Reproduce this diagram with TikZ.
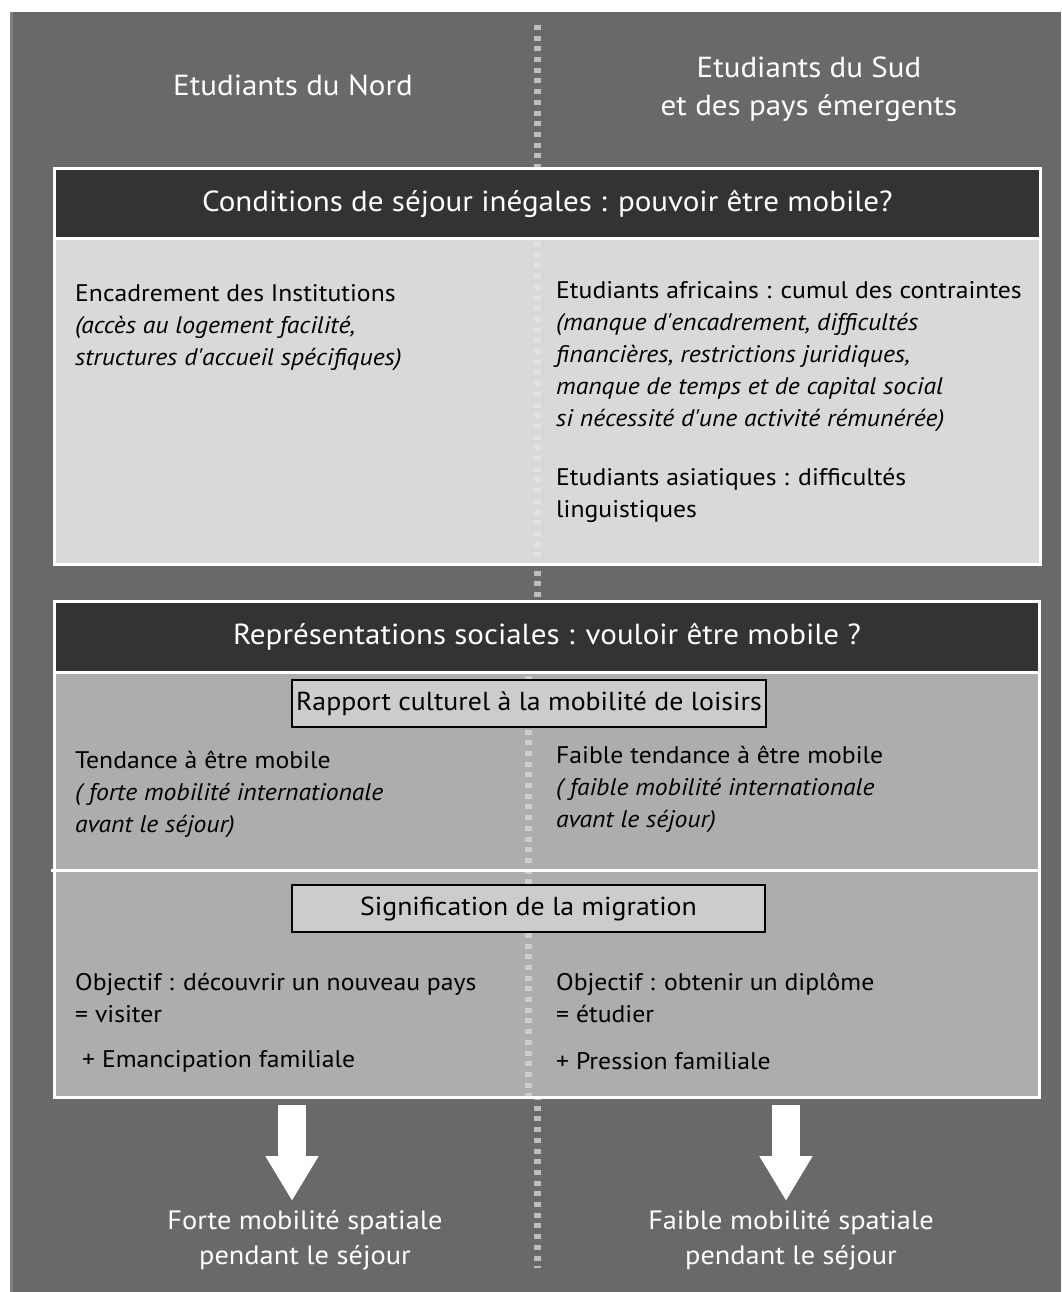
\documentclass[tikz,border=0pt]{standalone}
\usepackage{fontspec}
\setmainfont{PT Sans}[FakeStretch=1.07]
\usetikzlibrary{positioning,arrows.meta}

\definecolor{fond}{HTML}{696969}
\definecolor{bandcol}{HTML}{333333}
\definecolor{bodyA}{HTML}{D9D9D9}
\definecolor{bodyB}{HTML}{ADADAD}
\definecolor{tagcol}{HTML}{CCCCCC}
\definecolor{dotcol}{HTML}{BDBDBD}

\tikzset{
  hdr/.style={text=white, align=center, inner sep=0pt, font=\fontsize{29}{38}\selectfont},
  frame/.style={draw=white, line width=3pt, inner sep=0pt},
  band/.style={draw=white, line width=3pt, fill=bandcol, text=white, inner sep=0pt, font=\fontsize{29}{32}\selectfont},
  tag/.style={draw=black, line width=2.5pt, fill=tagcol, inner sep=0pt, font=\fontsize{26}{30}\selectfont},
  txt/.style={anchor=north west, align=left, inner sep=0pt, font=\fontsize{24}{32}\selectfont},
  res/.style={anchor=north, text=white, align=center, inner sep=0pt, font=\fontsize{26.5}{35}\selectfont},
  divider/.style={draw=dotcol, line width=7pt, dash pattern=on 5pt off 5.7pt},
  bigarrow/.style={draw=white, fill=white, line width=28pt, -{Triangle[width=50pt,length=45pt]}}
}

\begin{document}
\begin{tikzpicture}[x=1pt, y=-1pt]
  \useasboundingbox (0,0) rectangle (1061,1292);
  \fill[white] (0,0) rectangle (1061,1292);
  \fill[fond] (10,12) rectangle (1061,1292);
  \draw[fond!85!white, line width=3pt] (11.5,12) -- (11.5,1292);

  % middle divider
  \coordinate (divtop) at (537,25);
  \coordinate (divbot) at (537,1268);
  \draw[divider] (divtop) -- (divbot);

  % headers
  \node[hdr, anchor=north] (nord) at (293,75) {Etudiants du Nord};
  \node[hdr, anchor=north] (sud) at (809,56.5) {Etudiants du Sud\\et des pays émergents};

  % box 1 : conditions
  \node[frame, fill=bodyA, minimum width=986, minimum height=396] (box1) at (547.5,366.5) {};
  \draw[divider, draw=bodyA!75!white] (537,242) -- (537,563);
  \node[band, minimum width=986, minimum height=70] (cond) at (547.5,203.5) {Conditions de séjour inégales : pouvoir être mobile?};

  \node[txt] (instit) at (75,284) {Encadrement des Institutions\\
    \textit{(accès au logement facilité,}\\
    \textit{structures d\textquotesingle accueil spécifiques)}};
  \node[txt] (afric) at (556,281) {Etudiants africains : cumul des contraintes\\
    \textit{(manque d\textquotesingle encadrement, difficultés}\\
    \textit{financières, restrictions juridiques,}\\
    \textit{manque de temps et de capital social}\\
    \textit{si nécessité d\textquotesingle une activité rémunérée)}};
  \node[txt] (asia) at (556,468) {Etudiants asiatiques : difficultés\\linguistiques};

  % box 2 : representations
  \node[frame, fill=bodyB, minimum width=985, minimum height=496] (box2) at (547,849.5) {};
  \draw[divider, draw=bodyB!60!white] (528,676) -- (528,1096);
  \node[band, minimum width=985, minimum height=71] (repr) at (547,637) {Représentations sociales : vouloir être mobile ?};
  \draw[white, line width=3pt] (51,870) -- (box2.east |- 0,870);

  \node[tag, minimum width=474, minimum height=47] (loisirs) at (529,703.5) {Rapport culturel à la mobilité de loisirs};
  \node[txt] (tendN) at (75,751) {Tendance à être mobile\\
    \textit{( forte mobilité internationale}\\
    \textit{avant le séjour)}};
  \node[txt] (tendS) at (556,746) {Faible tendance à être mobile\\
    \textit{( faible mobilité internationale}\\
    \textit{avant le séjour)}};

  \node[tag, minimum width=473, minimum height=47] (signif) at (528.5,908.5) {Signification de la migration};
  \node[txt] (objN) at (75,973) {Objectif : découvrir un nouveau pays\\= visiter};
  \node[txt] (objS) at (556,973) {Objectif : obtenir un diplôme\\= étudier};
  \node[txt] (emancip) at (82,1050) {+ Emancipation familiale};
  \node[txt] (pression) at (556,1052) {+ Pression familiale};

  % arrows and results
  \coordinate (nordtop) at (292,1105);
  \coordinate (nordtip) at (292,1201);
  \coordinate (sudtop) at (786,1105);
  \coordinate (sudtip) at (786,1201);
  \draw[bigarrow] (nordtop) -- (nordtip);
  \draw[bigarrow] (sudtop) -- (sudtip);

  \node[res] (forte) at (305,1210.5) {Forte mobilité spatiale\\pendant le séjour};
  \node[res] (faible) at (791,1210.5) {Faible mobilité spatiale\\pendant le séjour};
\end{tikzpicture}
\end{document}
